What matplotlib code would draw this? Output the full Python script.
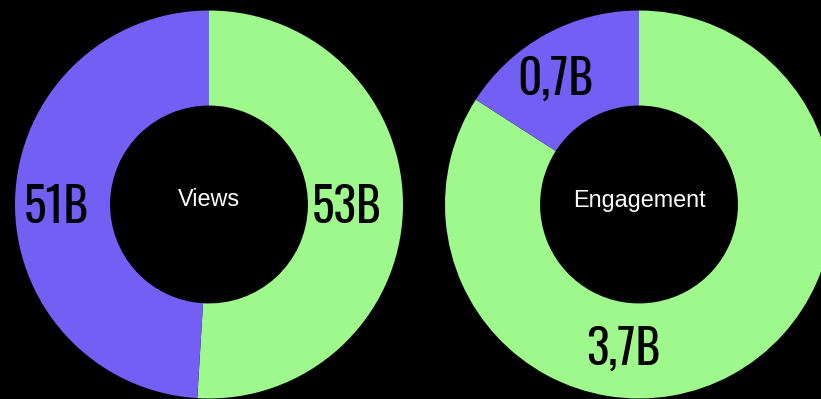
import matplotlib.pyplot as plt

# slices listed clockwise from 12 o'clock
views_labels = ['53B', '51B']
views_values = [53, 51]
engage_labels = ['3,7B', '0,7B']
engage_values = [3.7, 0.7]
titles = ['Views', 'Engagement']

GREEN = '#9ff88b'
PURPLE = '#735ff3'

fig = plt.figure(figsize=(8.21, 3.99), dpi=100, facecolor='black')
ax = fig.add_axes([0, 0, 1, 1])
ax.set_facecolor('black')
ax.axis('off')

R = 194
centers = [(209, 194.5), (639, 194.5)]
datasets = [(views_values, views_labels), (engage_values, engage_labels)]
# value label spots, one per slice (x, baseline y)
label_pos = [[(346.5, 176), (56.5, 176)],
             [(623.5, 34), (555, 304)]]

for (cx, cy), (vals, labs), title, spots in zip(centers, datasets, titles, label_pos):
    ax.pie(vals, colors=[GREEN, PURPLE], startangle=90, counterclock=False,
           center=(cx, cy), radius=R,
           wedgeprops=dict(width=R * 0.49, linewidth=0))
    for lab, (lx, ly) in zip(labs, spots):
        ax.text(lx, ly, lab, fontsize=34, family='Oswald', weight='light',
                color='black', ha='center', va='baseline')
    ax.text(cx, cy - 2, title, color='white', fontsize=16.8,
            family='Liberation Sans', ha='center', va='baseline')

ax.set_xlim(0, 821)
ax.set_ylim(0, 399)
ax.set_aspect('equal')
fig.savefig('out.png', dpi=100, facecolor='black')
